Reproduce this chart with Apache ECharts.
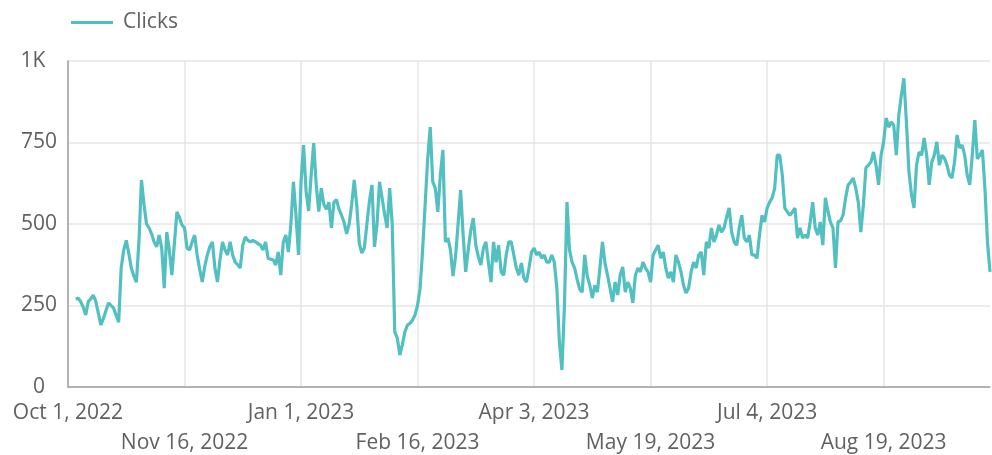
<!DOCTYPE html>
<html>
<head>
<meta charset="utf-8">
<script src="https://cdn.jsdelivr.net/npm/echarts@6/dist/echarts.min.js"></script>
<style>
  html, body { margin: 0; padding: 0; background: #ffffff; }
  #chart { width: 992px; height: 455px; }
</style>
</head>
<body>
<div id="chart"></div>
<script>
// Daily clicks, Oct 1, 2022 – Sep 30, 2023 (first days not reported)
const startDate = '2022-10-01';
const dayCount = 365;

const clicks = [
  null, null, null, 270, 272, 262, 245, 221, 262, 270,
  282, 262, 225, 190, 211, 235, 258, 250, 242, 220,
  199, 365, 420, 450, 410, 365, 340, 322, 445, 635,
  560, 500, 488, 470, 445, 430, 466, 426, 303, 475,
  420, 343, 440, 537, 520, 497, 488, 426, 420, 445,
  466, 405, 360, 322, 370, 405, 430, 445, 365, 322,
  390, 445, 420, 405, 445, 405, 383, 375, 365, 435,
  460, 450, 445, 450, 445, 440, 435, 420, 445, 395,
  392, 390, 374, 414, 343, 445, 466, 414, 500, 629,
  527, 405, 629, 742, 600, 540, 650, 748, 620, 538,
  610, 560, 545, 567, 488, 567, 575, 545, 527, 505,
  470, 500, 560, 635, 558, 440, 411, 426, 500, 570,
  620, 430, 500, 629, 580, 530, 488, 610, 500, 169,
  150, 98, 130, 169, 190, 195, 205, 221, 251, 303,
  420, 560, 700, 797, 629, 610, 537, 650, 727, 445,
  457, 420, 340, 400, 500, 604, 466, 353, 420, 480,
  518, 435, 400, 374, 426, 445, 380, 322, 445, 383,
  435, 353, 343, 405, 445, 445, 405, 365, 343, 380,
  334, 322, 365, 414, 426, 405, 414, 395, 405, 383,
  383, 405, 383, 303, 138, 52, 251, 567, 420, 383,
  365, 330, 300, 291, 405, 340, 312, 273, 312, 291,
  365, 445, 380, 343, 303, 261, 322, 282, 343, 368,
  291, 322, 303, 258, 343, 365, 353, 383, 365, 353,
  322, 405, 420, 435, 395, 414, 365, 334, 353, 322,
  405, 383, 353, 312, 288, 303, 353, 383, 365, 405,
  414, 343, 445, 426, 488, 445, 466, 497, 475, 488,
  520, 549, 475, 445, 435, 488, 527, 457, 445, 466,
  405, 405, 395, 466, 527, 506, 549, 567, 580, 610,
  711, 711, 650, 549, 537, 527, 537, 549, 457, 488,
  457, 466, 457, 506, 567, 488, 466, 506, 435, 580,
  540, 506, 488, 365, 506, 510, 527, 580, 620, 629,
  641, 610, 567, 475, 558, 672, 681, 690, 721, 681,
  620, 711, 752, 825, 797, 813, 803, 711, 834, 895,
  947, 813, 660, 590, 549, 681, 721, 711, 764, 711,
  620, 690, 711, 752, 681, 711, 702, 681, 650, 641,
  690, 773, 733, 742, 711, 650, 620, 711, 819, 700,
  711, 727, 610, 445, 353
];

// Labels shown every 46 days along the date axis, alternating between two rows
const tickStep = 46;
const tickLabels = [
  'Oct 1, 2022', 'Nov 16, 2022', 'Jan 1, 2023', 'Feb 16, 2023',
  'Apr 3, 2023', 'May 19, 2023', 'Jul 4, 2023', 'Aug 19, 2023'
];

const yTicks = [0, 250, 500, 750, 1000];
const yTickLabels = ['0', '250', '500', '750', '1K'];

// Build the day categories
const days = [];
{
  const d0 = new Date(startDate + 'T00:00:00Z');
  for (let i = 0; i < dayCount; i++) {
    const d = new Date(d0.getTime() + i * 86400000);
    days.push(d.toISOString().slice(0, 10));
  }
}

const textColor = '#616161';
const gridColor = '#e6e6e6';
const axisColor = '#a0a0a0';
const lineColor = '#52c0c0';
const font = 'Open Sans';

// Label text for one of the two rows (row 0: even ticks, row 1: odd ticks)
function rowFormatter(row) {
  return function (value, index) {
    if (index % tickStep !== 0) return '';
    const k = index / tickStep;
    return k % 2 === row ? (tickLabels[k] || '') : '';
  };
}

function dateAxis(row) {
  return {
    type: 'category',
    data: days,
    position: 'bottom',
    boundaryGap: false,
    axisLine: { show: row === 0, lineStyle: { color: axisColor, width: 1.5 } },
    axisTick: { show: false },
    axisLabel: {
      interval: tickStep - 1,
      hideOverlap: false,
      color: textColor,
      fontSize: 21,
      fontFamily: font,
      margin: row === 0 ? 16 : 46,
      formatter: rowFormatter(row)
    },
    splitLine: {
      show: row === 0,
      interval: tickStep - 1,
      lineStyle: { color: gridColor, width: 1.5 }
    }
  };
}

const chart = echarts.init(document.getElementById('chart'), null, { renderer: 'canvas' });

chart.setOption({
  animation: false,
  backgroundColor: '#ffffff',
  legend: {
    left: 66,
    top: 7,
    icon: 'rect',
    itemWidth: 42,
    itemHeight: 3,
    textStyle: { color: textColor, fontSize: 21, fontFamily: font, padding: [0, 0, 0, 5] },
    data: [{ name: 'Clicks', itemStyle: { color: lineColor } }]
  },
  grid: { left: 68, right: 2, top: 61, bottom: 68, containLabel: false },
  xAxis: [dateAxis(0), dateAxis(1)],
  yAxis: {
    type: 'value',
    min: yTicks[0],
    max: yTicks[yTicks.length - 1],
    interval: 250,
    axisLine: { show: true, lineStyle: { color: axisColor, width: 1.5 } },
    axisTick: { show: false },
    axisLabel: {
      color: textColor,
      fontSize: 21,
      fontFamily: font,
      align: 'center',
      margin: 29,
      formatter: function (v) {
        const i = yTicks.indexOf(v);
        if (i < 0) return '';
        return v === 1000 ? '{k|' + yTickLabels[i] + '}' : yTickLabels[i];
      },
      rich: {
        k: { color: textColor, fontSize: 21, fontFamily: font, padding: [0, 12, 0, 0] }
      }
    },
    splitLine: { show: true, lineStyle: { color: gridColor, width: 1.5 } }
  },
  series: [{
    name: 'Clicks',
    type: 'line',
    xAxisIndex: 0,
    data: clicks,
    symbol: 'none',
    showSymbol: false,
    connectNulls: false,
    lineStyle: { color: lineColor, width: 3.2 },
    itemStyle: { color: lineColor }
  }]
});
</script>
</body>
</html>
